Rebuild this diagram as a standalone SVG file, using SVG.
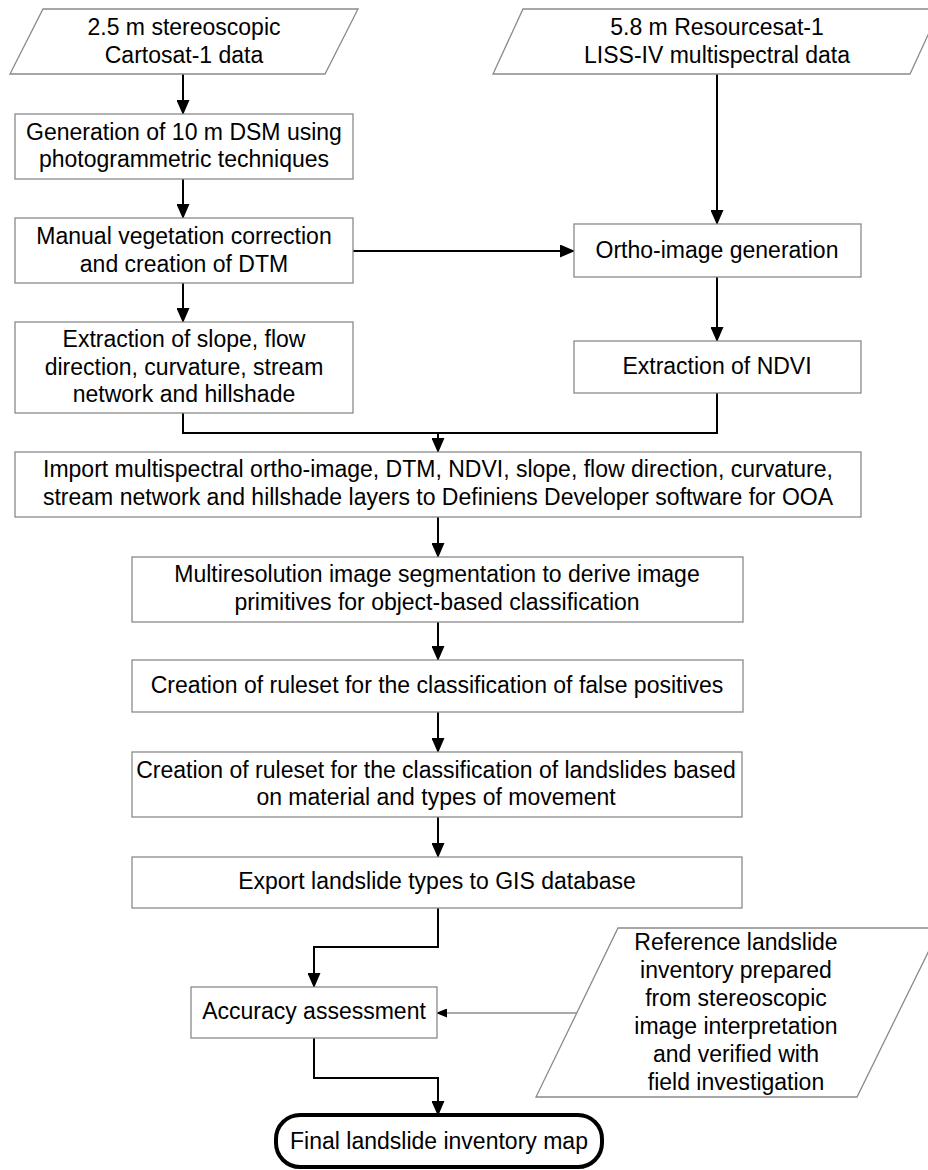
<svg xmlns="http://www.w3.org/2000/svg" width="928" height="1170" viewBox="0 0 928 1170">
<style>
.box{fill:#fff;stroke:#8a8a8a;stroke-width:1.3}
.term{fill:#fff;stroke:#000;stroke-width:4}
.t{font-family:"Liberation Sans",Arial,sans-serif;font-size:23px;fill:#000;text-anchor:middle}
.c{fill:none;stroke:#000;stroke-width:2}
.c2{fill:none;stroke:#555;stroke-width:1.2}
</style>
<defs>
<marker id="ah" markerUnits="userSpaceOnUse" markerWidth="15" markerHeight="13" refX="14" refY="6.5" orient="auto">
<path d="M0,0 L15,6.5 L0,13 z" fill="#000"/>
</marker>
<marker id="ahs" markerUnits="userSpaceOnUse" markerWidth="11" markerHeight="9" refX="10" refY="4.5" orient="auto">
<path d="M0,0 L11,4.5 L0,9 z" fill="#000"/>
</marker>
</defs>
<rect width="928" height="1170" fill="#fff"/>
<g id="connectors">
<path class="c" d="M183,74 V114" marker-end="url(#ah)"/>
<path class="c" d="M183,179 V218" marker-end="url(#ah)"/>
<path class="c" d="M183,283 V322" marker-end="url(#ah)"/>
<path class="c" d="M353,251 H574" marker-end="url(#ah)"/>
<path class="c" d="M717,74 V224" marker-end="url(#ah)"/>
<path class="c" d="M717,277 V341" marker-end="url(#ah)"/>
<path class="c" d="M717,393 V433 H438"/>
<path class="c" d="M183,413 V433 H438 V452" marker-end="url(#ah)"/>
<path class="c" d="M438,517 V557" marker-end="url(#ah)"/>
<path class="c" d="M438,622 V660" marker-end="url(#ah)"/>
<path class="c" d="M438,712 V752" marker-end="url(#ah)"/>
<path class="c" d="M438,817 V857" marker-end="url(#ah)"/>
<path class="c" d="M438,908 V947 H314 V987" marker-end="url(#ah)"/>
<path class="c2" d="M577,1013 H437" marker-end="url(#ahs)"/>
<path class="c" d="M314,1038 V1078 H438 V1115" marker-end="url(#ah)"/>
</g>
<g id="cartosat">
<polygon class="box" points="43,9 358,9 325,74 10,74"/>
<text class="t" x="184" y="35">2.5 m stereoscopic</text>
<text class="t" x="184" y="63">Cartosat-1 data</text>
</g>
<g id="resourcesat">
<polygon class="box" points="523,9 940,9 910,74 493,74"/>
<text class="t" x="717" y="35">5.8 m Resourcesat-1</text>
<text class="t" x="717" y="63">LISS-IV multispectral data</text>
</g>
<g id="dsm">
<rect class="box" x="15" y="114" width="338" height="65"/>
<text class="t" x="184" y="140">Generation of 10 m DSM using</text>
<text class="t" x="184" y="167">photogrammetric techniques</text>
</g>
<g id="dtm">
<rect class="box" x="15" y="218" width="338" height="65"/>
<text class="t" x="184" y="244">Manual vegetation correction</text>
<text class="t" x="184" y="271.5">and creation of DTM</text>
</g>
<g id="extraction">
<rect class="box" x="15" y="322" width="338" height="91"/>
<text class="t" x="184" y="347">Extraction of slope, flow</text>
<text class="t" x="184" y="374.5">direction, curvature, stream</text>
<text class="t" x="184" y="402">network and hillshade</text>
</g>
<g id="ortho">
<rect class="box" x="574" y="224" width="287" height="53"/>
<text class="t" x="717" y="257.5">Ortho-image generation</text>
</g>
<g id="ndvi">
<rect class="box" x="574" y="341" width="287" height="52"/>
<text class="t" x="717" y="374">Extraction of NDVI</text>
</g>
<g id="import">
<rect class="box" x="15" y="452" width="846" height="65"/>
<text class="t" x="438" y="477">Import multispectral ortho-image, DTM, NDVI, slope, flow direction, curvature,</text>
<text class="t" x="438" y="504.5">stream network and hillshade layers to Definiens Developer software for OOA</text>
</g>
<g id="segmentation">
<rect class="box" x="132" y="557" width="611" height="65"/>
<text class="t" x="437" y="582">Multiresolution image segmentation to derive image</text>
<text class="t" x="437" y="609.5">primitives for object-based classification</text>
</g>
<g id="falsepos">
<rect class="box" x="132" y="660" width="611" height="52"/>
<text class="t" x="437" y="693">Creation of ruleset for the classification of false positives</text>
</g>
<g id="landslides">
<rect class="box" x="132" y="752" width="610" height="65"/>
<text class="t" x="436" y="777.5">Creation of ruleset for the classification of landslides based</text>
<text class="t" x="436" y="805">on material and types of movement</text>
</g>
<g id="export">
<rect class="box" x="132" y="857" width="610" height="51"/>
<text class="t" x="437" y="889">Export landslide types to GIS database</text>
</g>
<g id="accuracy">
<rect class="box" x="191" y="987" width="246" height="51"/>
<text class="t" x="314" y="1019">Accuracy assessment</text>
</g>
<g id="reference">
<polygon class="box" points="618,928 940,928 857,1097 536,1097"/>
<text class="t" x="736" y="949.5">Reference landslide</text>
<text class="t" x="736" y="977.5">inventory prepared</text>
<text class="t" x="736" y="1005.5">from stereoscopic</text>
<text class="t" x="736" y="1033.5">image interpretation</text>
<text class="t" x="736" y="1061.5">and verified with</text>
<text class="t" x="736" y="1089.5">field investigation</text>
</g>
<g id="final">
<rect class="term" x="276" y="1115" width="326" height="52" rx="24" ry="24"/>
<text class="t" x="439" y="1149">Final landslide inventory map</text>
</g>
</svg>
